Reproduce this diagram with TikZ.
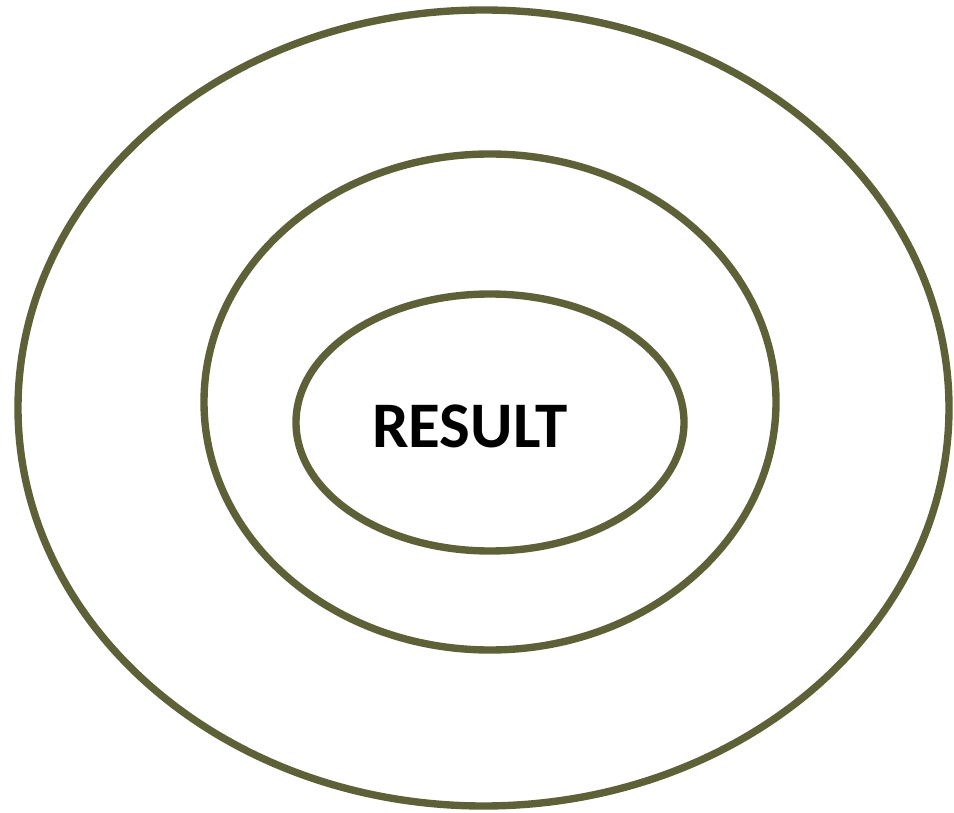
\documentclass[tikz,border=0pt]{standalone}
\usepackage{fontspec}
\setmainfont{Carlito}
\usepackage{tikz}
\usepackage{xcolor}
\usetikzlibrary{positioning,shapes.geometric}
\definecolor{ringolive}{RGB}{94,97,56}
\tikzset{
  ring/.style={draw=ringolive, ellipse, line width=4.2pt, inner sep=0pt},
  label/.style={font=\fontsize{37}{40}\selectfont\bfseries, inner sep=0pt}
}

\begin{document}
\begin{tikzpicture}
    \useasboundingbox (0,0) rectangle (19.08,-16.26);
    \node[ring, minimum width=18.62cm, minimum height=15.92cm] (outer) at (9.67,-8.16) {};
    \node[ring, minimum width=11.44cm, minimum height=9.92cm] (middle) at (9.80,-8.04) {};
    \node[ring, minimum width=7.76cm, minimum height=5.14cm] (inner) at (9.80,-8.45) {};
    \node[label] (result) at (9.40,-8.52) {RESULT};
  \end{tikzpicture}
\end{document}
